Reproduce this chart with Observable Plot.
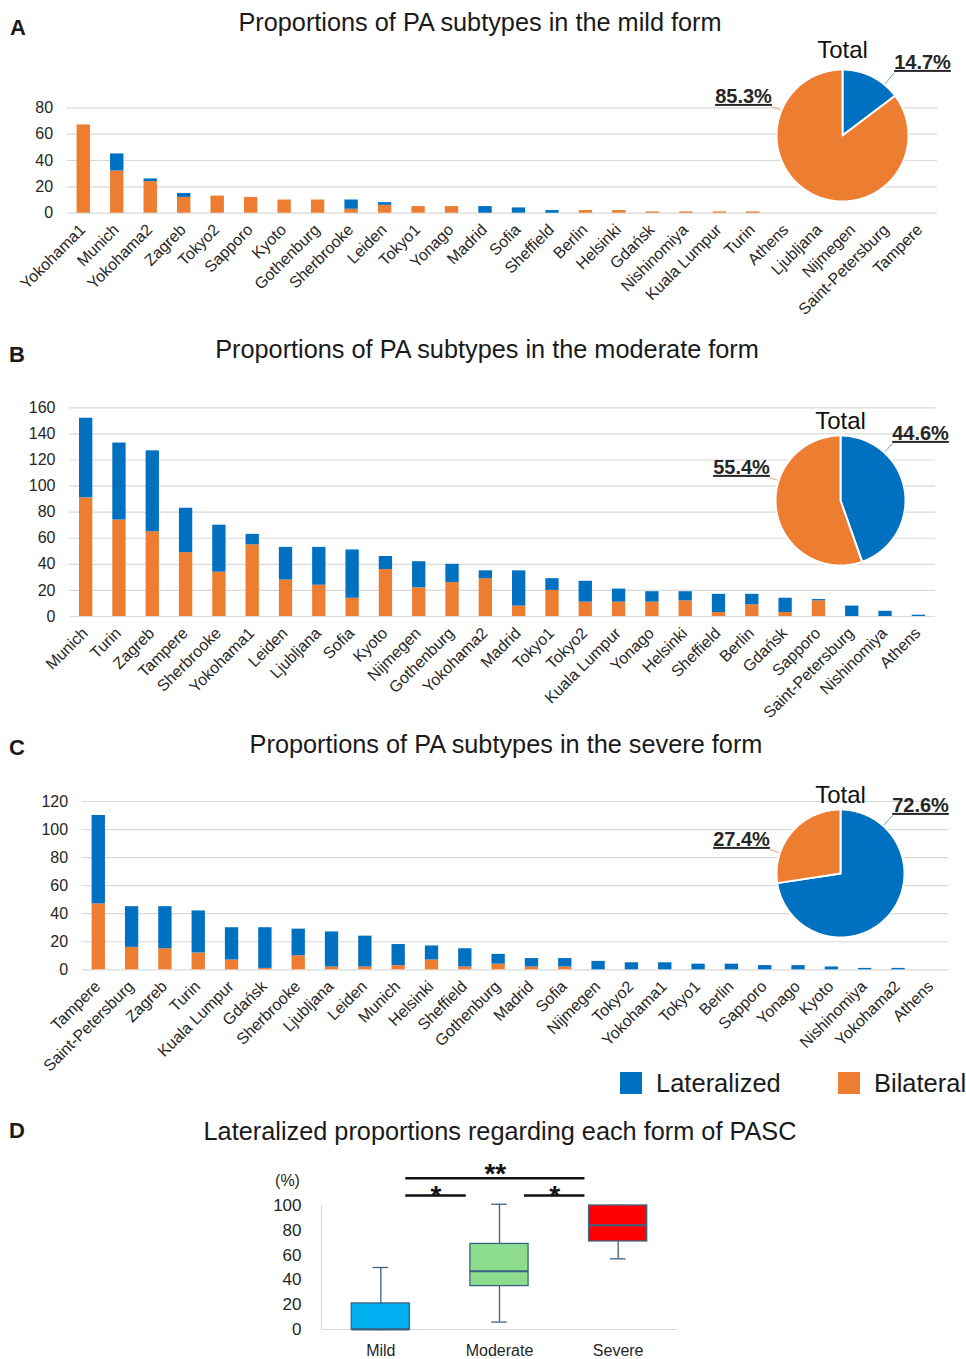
<!DOCTYPE html>
<html><head><meta charset="utf-8">
<script src="https://cdn.jsdelivr.net/npm/d3@7"></script>
<script src="https://cdn.jsdelivr.net/npm/@observablehq/plot@0.6"></script>
<style>
body{margin:0;background:#fff;font-family:"Liberation Sans",Arial,sans-serif;color:#1a1a1a;}
#root{position:relative;width:966px;height:1359px;overflow:hidden;background:#fff;}
.t{position:absolute;white-space:nowrap;transform:translate(-50%,-50%);line-height:1;}
.l{position:absolute;white-space:nowrap;transform:translate(0,-50%);line-height:1;}
</style></head>
<body><div id="root"></div>
<script>
// ---------------- DATA ----------------
const mildCities = ["Yokohama1","Munich","Yokohama2","Zagreb","Tokyo2","Sapporo","Kyoto","Gothenburg","Sherbrooke","Leiden","Tokyo1","Yonago","Madrid","Sofia","Sheffield","Berlin","Helsinki","Gdańsk","Nishinomiya","Kuala Lumpur","Turin","Athens","Ljubljana","Nijmegen","Saint-Petersburg","Tampere"];
const mildLateralized = [0,13,2,3,0,0,0,0,7,2,0,0,5,4,2,0,0,0,0,0,0,0,0,0,0,0];
const mildBilateral   = [67,32,24,12,13,12,10,10,3,6,5,5,0,0,0,2,2,1,1,1,1,0,0,0,0,0];
const mildTicks = [0,20,40,60,80];
const mildPie = [14.7, 85.3]; // Lateralized, Bilateral (%)

const moderateCities = ["Munich","Turin","Zagreb","Tampere","Sherbrooke","Yokohama1","Leiden","Ljubljana","Sofia","Kyoto","Nijmegen","Gothenburg","Yokohama2","Madrid","Tokyo1","Tokyo2","Kuala Lumpur","Yonago","Helsinki","Sheffield","Berlin","Gdańsk","Sapporo","Saint-Petersburg","Nishinomiya","Athens"];
const moderateLateralized = [61,59,62,34,36,8,25,29,37,10,20,14,6,27,9,16,10,8,7,14,8,11,1,8,4,1];
const moderateBilateral   = [91,74,65,49,34,55,28,24,14,36,22,26,29,8,20,11,11,11,12,3,9,3,12,0,0,0];
const moderateTicks = [0,20,40,60,80,100,120,140,160];
const moderatePie = [44.6, 55.4];

const severeCities = ["Tampere","Saint-Petersburg","Zagreb","Turin","Kuala Lumpur","Gdańsk","Sherbrooke","Ljubljana","Leiden","Munich","Helsinki","Sheffield","Gothenburg","Madrid","Sofia","Nijmegen","Tokyo2","Yokohama1","Tokyo1","Berlin","Sapporo","Yonago","Kyoto","Nishinomiya","Yokohama2","Athens"];
const severeLateralized = [63,29,30,30,23,29,19,25,22,15,10,13,7,6,6,6,5,5,4,4,3,3,2,1,1,0];
const severeBilateral   = [47,16,15,12,7,1,10,2,2,3,7,2,4,2,2,0,0,0,0,0,0,0,0,0,0,0];
const severeTicks = [0,20,40,60,80,100,120];
const severePie = [72.6, 27.4];

const seriesNames = ["Lateralized","Bilateral"];

const boxForms  = ["Mild","Moderate","Severe"];
const boxMin    = [0, 6, 57];
const boxQ1     = [0, 35, 71];
const boxMedian = [0, 47, 84];
const boxQ3     = [21, 69, 100];
const boxMax    = [50, 101, 100];
const boxTicks  = [0,20,40,60,80,100];

const sigFrom  = ["Mild","Mild","Moderate"];
const sigTo    = ["Severe","Moderate","Severe"];
const sigLabel = ["**","*","*"];
const sigLevel = [2,1,1];

// ---------------- STYLE ----------------
const BLUE = "#0070C0", ORANGE = "#ED7D31", GRID = "#d9d9d9", INK = "#262626";
const BOXFILL = ["#00B0F0","#8EDC8E","#FF0000"], BOXLINE = "#3A6283";
const FONT = "'Liberation Sans', Arial, sans-serif";
const TITLE = "25.3px";
const root = document.getElementById("root");

function place(el, left, top){ el.style.position="absolute"; el.style.left=left+"px"; el.style.top=top+"px"; root.appendChild(el); return el; }
function txt(s, x, y, css, cls="t"){ const d=document.createElement("div"); d.className=cls; d.textContent=s; d.style.left=x+"px"; d.style.top=y+"px"; Object.assign(d.style, css||{}); root.appendChild(d); return d; }

function barPanel(cities, lat, bil, ticks, L){
  const rows = cities.map((c,i)=>({city:c, lat:lat[i], bil:bil[i]}));
  const p = Plot.plot({
    width:966, height:L.mt+L.ph+L.mb,
    marginLeft:L.ml, marginRight:L.mr, marginTop:L.mt, marginBottom:L.mb,
    style:{fontFamily:FONT, fontSize:"16px", color:INK, background:"transparent", overflow:"visible"},
    x:{type:"band", domain:cities, paddingInner:0.6, paddingOuter:0.3, round:false},
    y:{domain:[0, ticks[ticks.length-1]]},
    marks:[
      Plot.ruleY(ticks, {stroke:GRID, strokeWidth:1.2}),
      Plot.barY(rows, {x:"city", y1:0, y2:"bil", fill:ORANGE}),
      Plot.barY(rows, {x:"city", y1:"bil", y2:d=>d.bil+d.lat, fill:BLUE}),
      Plot.axisY({ticks, tickSize:0, tickPadding:14, label:null, fontSize:16}),
      Plot.axisX({tickRotate:-45, tickSize:0, tickPadding:14, label:null, fontSize:16, dx:-1})
    ]
  });
  place(p, 0, L.top);
}

function piePanel(pct, P){
  const W=300, H=230, ox=150, oy=130;
  const colors=[BLUE, ORANGE];
  const slices=[]; let a0=0;
  pct.forEach((v,i)=>{
    const a1=a0+v/100*2*Math.PI;
    const n=Math.max(2, Math.ceil((a1-a0)/(Math.PI/180)));
    const pts=[{x:0,y:0}];
    for(let j=0;j<=n;j++){ const t=a0+(a1-a0)*j/n; pts.push({x:P.r*Math.sin(t), y:-P.r*Math.cos(t)}); }
    slices.push(pts); a0=a1;
  });
  // labels: Lateralized upper right, Bilateral upper left
  const labs=[
    {x:80, y:P.ly[0], text:pct[0].toFixed(1)+"%", ux:-28, c:"#6d9cc9"},
    {x:-99, y:P.ly[1], text:pct[1].toFixed(1)+"%", ux:28, c:"#eda47a"}
  ].map(d=>{
    const sx=d.x+d.ux, sy=d.y+10, len=Math.hypot(sx,sy);
    return {...d, x1:sx, y1:sy, x2:sx/len*(P.r+1), y2:sy/len*(P.r+1)};
  });
  const marks=[];
  slices.forEach((pts,i)=>marks.push(Plot.line(pts,{x:"x",y:"y",fill:colors[i],stroke:"white",strokeWidth:2,curve:"linear-closed",strokeLinejoin:"round"})));
  marks.push(Plot.link(labs,{x1:"x1",y1:"y1",x2:"x2",y2:"y2",stroke:"c",strokeWidth:1}));
  marks.push(Plot.text(labs,{x:"x",y:"y",text:"text",fontSize:20,fontWeight:"bold",fill:INK}));
  marks.push(Plot.text(["Total"],{x:0,y:-(P.r+P.tot),text:d=>d,fontSize:24,fill:"#111"}));
  const p = Plot.plot({
    width:W, height:H, margin:0,
    style:{fontFamily:FONT, background:"transparent", overflow:"visible"},
    x:{domain:[-ox, W-ox], range:[0,W], axis:null},
    y:{domain:[-oy, H-oy], range:[0,H], axis:null},
    color:{type:"identity"},
    marks
  });
  p.querySelectorAll("text").forEach(t=>{ if(t.textContent.trim().endsWith("%")) t.style.textDecoration="underline"; });
  place(p, P.cx-ox, P.cy-oy);
}

// ---------------- PANEL A ----------------
txt("A", 18, 28, {fontSize:"22px", fontWeight:"bold"});
txt("Proportions of PA subtypes in the mild form", 480, 23, {fontSize:TITLE});
barPanel(mildCities, mildLateralized, mildBilateral, mildTicks, {top:90, mt:17.3, ph:105.4, mb:115, ml:66.5, mr:29});
piePanel(mildPie, {cx:842, cy:135, r:66, tot:19, ly:[-73,-39]});

// ---------------- PANEL B ----------------
txt("B", 17, 355, {fontSize:"22px", fontWeight:"bold"});
txt("Proportions of PA subtypes in the moderate form", 487, 350, {fontSize:TITLE});
barPanel(moderateCities, moderateLateralized, moderateBilateral, moderateTicks, {top:395, mt:12.3, ph:208.7, mb:115, ml:69, mr:31});
piePanel(moderatePie, {cx:840, cy:500, r:65, tot:14, ly:[-67,-33]});

// ---------------- PANEL C ----------------
txt("C", 17, 748, {fontSize:"22px", fontWeight:"bold"});
txt("Proportions of PA subtypes in the severe form", 506, 745, {fontSize:TITLE});
barPanel(severeCities, severeLateralized, severeBilateral, severeTicks, {top:790, mt:11, ph:168.3, mb:115, ml:81.6, mr:18});
piePanel(severePie, {cx:840, cy:873, r:64, tot:14, ly:[-68,-34]});

// legend
[[seriesNames[0], BLUE, 620],[seriesNames[1], ORANGE, 838]].forEach(([name,c,x])=>{
  const s=document.createElement("div"); s.style.width="22px"; s.style.height="22px"; s.style.background=c; s.style.zIndex=2;
  place(s, x, 1072);
  txt(name, x+36, 1084, {fontSize:"25.5px", color:"#1a1a1a", zIndex:2}, "l");
});

// ---------------- PANEL D ----------------
txt("D", 17, 1131, {fontSize:"22px", fontWeight:"bold"});
txt("Lateralized proportions regarding each form of PASC", 500, 1132, {fontSize:TITLE});
{
  const rows = boxForms.map((f,i)=>({i, form:f, min:boxMin[i], q1:boxQ1[i], med:boxMedian[i], q3:boxQ3[i], max:boxMax[i], fill:BOXFILL[i]}));
  const idx = f=>boxForms.indexOf(f);
  const sig = sigFrom.map((f,k)=>({a:idx(f)+0.21, b:idx(sigTo[k])-0.28, label:sigLabel[k], y:94+14*sigLevel[k], lvl:sigLevel[k]}));
  const hw=0.245, cw=0.065;
  const p = Plot.plot({
    width:966, height:209, marginLeft:321, marginRight:289, marginTop:55, marginBottom:30,
    style:{fontFamily:FONT, fontSize:"16px", color:INK, background:"transparent", overflow:"visible"},
    x:{domain:[-0.5,2.5]}, y:{domain:[0,100]}, color:{type:"identity"},
    marks:[
      Plot.ruleX([-0.5],{stroke:GRID, strokeWidth:1.2}),
      Plot.ruleY([0],{stroke:GRID, strokeWidth:1.2}),
      Plot.ruleX(rows,{x:"i", y1:"min", y2:"q1", stroke:BOXLINE, strokeWidth:1.3}),
      Plot.ruleX(rows,{x:"i", y1:"q3", y2:"max", stroke:BOXLINE, strokeWidth:1.3}),
      Plot.ruleY(rows,{y:"max", x1:d=>d.i-cw, x2:d=>d.i+cw, stroke:BOXLINE, strokeWidth:1.3}),
      Plot.ruleY(rows,{y:"min", x1:d=>d.i-cw, x2:d=>d.i+cw, stroke:BOXLINE, strokeWidth:1.3}),
      Plot.rect(rows,{x1:d=>d.i-hw, x2:d=>d.i+hw, y1:"q1", y2:"q3", fill:"fill", stroke:BOXLINE, strokeWidth:1.3}),
      Plot.ruleY(rows,{y:"med", x1:d=>d.i-hw, x2:d=>d.i+hw, stroke:BOXLINE, strokeWidth:2}),
      Plot.ruleY(sig,{y:"y", x1:"a", x2:"b", stroke:"#111", strokeWidth:2.5}),
      Plot.text(sig,{x:d=>(d.a+d.b)/2, y:d=>d.y+(d.lvl===2?3:0), text:"label", fontSize:28, fontWeight:"bold", fill:"#111"}),
      Plot.text(["(%)"],{x:-0.5, y:120, dx:-34, text:d=>d, fontSize:16}),
      Plot.axisY({ticks:boxTicks, tickSize:0, tickPadding:20, label:null, fontSize:17}),
      Plot.axisX({ticks:[0,1,2], tickFormat:i=>boxForms[i], tickSize:0, tickPadding:15, label:null, fontSize:16})
    ]
  });
  place(p, 0, 1150);
}
</script>
</body></html>
